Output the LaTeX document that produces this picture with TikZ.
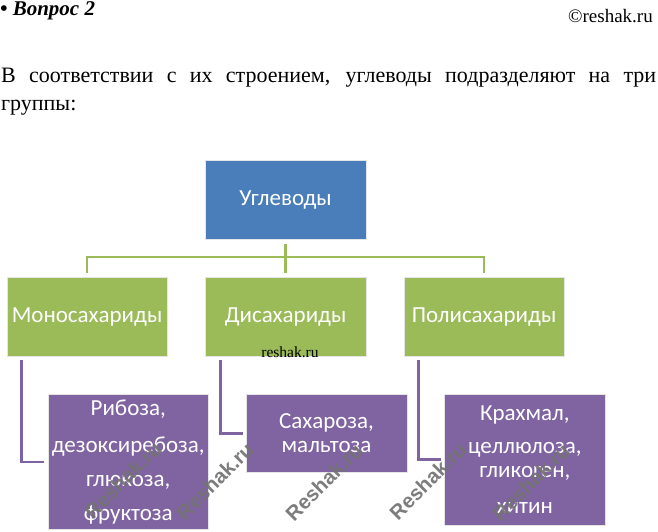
\documentclass[tikz,border=0pt]{standalone}
\usepackage{fontspec}
\setmainfont{Liberation Serif}
\newfontfamily\calfont{Carlito}
\newfontfamily\wmfont{Liberation Sans}
\definecolor{boxblue}{HTML}{4A7EBB}
\definecolor{boxgreen}{HTML}{9BBB59}
\definecolor{boxpurple}{HTML}{8064A2}
\begin{document}
\begin{tikzpicture}[x=1pt,y=-1pt,
  box/.style={draw=white!80!gray, line width=0.6pt, inner sep=0pt, minimum width=160.5pt,
    text=white, align=center, anchor=north west,
    font=\calfont\fontsize{23}{28}\selectfont},
  gl/.style={draw=boxgreen, line width=2.8pt},
  pl/.style={draw=boxpurple, line width=2.8pt},
  wm/.style={font=\wmfont\bfseries\fontsize{20.5}{24}\selectfont, text=black!55, text opacity=0.92,
    rotate=45, inner sep=0pt}]
\fill[white] (0,0) rectangle (658,531);
\useasboundingbox (0,0) rectangle (658,531);

% header texts
\node[anchor=base west, inner sep=0pt, font=\bfseries\itshape\fontsize{21}{25}\selectfont] (q) at (0,15) {• Вопрос 2};
\node[anchor=base east, inner sep=0pt, font=\fontsize{19}{22}\selectfont] (cr) at (653,22) {©reshak.ru};
\node[anchor=base west, inner sep=0pt, font=\fontsize{22}{26}\selectfont] (p1) at (1,82)
  {\hbox to 655pt{\spaceskip=5pt plus 1fil В соответствии с их строением, углеводы подразделяют на три}};
\node[anchor=base west, inner sep=0pt, font=\fontsize{22}{26}\selectfont] (p2) at (1,110) {группы:};

% boxes
\node[box, fill=boxblue, minimum height=79pt] (top) at (205,160) {Углеводы};
\node[box, fill=boxgreen, minimum height=79.3pt] (mono) at (6.5,276.7) {Моносахариды};
\node[box, fill=boxgreen, minimum height=79.3pt] (di) at (205,276.7) {Дисахариды};
\node[box, fill=boxgreen, minimum height=79.3pt] (poly) at (403.5,276.7) {Полисахариды};

\node[box, fill=boxpurple, minimum height=135.3pt, font=\calfont\fontsize{23}{34}\selectfont] (r1) at (47.7,394)
  {Рибоза,\\[3pt] дезоксиребоза,\\ глюкоза,\\ фруктоза};
\node[box, fill=boxpurple, minimum height=77.7pt, font=\calfont\fontsize{23}{23.4}\selectfont] (r2) at (246,394)
  {Сахароза,\\ мальтоза};
\node[box, fill=boxpurple, minimum height=131pt, font=\calfont\fontsize{23}{24}\selectfont] (r3) at (444.3,394)
  {Крахмал,\\[8.7pt] целлюлоза,\\ гликоген,\\[12.6pt] хитин};

% green connectors
\coordinate (hub) at (285.5,257);
\draw[gl, shorten <=4pt, shorten >=4pt] (top) -- (di);
\draw[gl, shorten <=3.5pt] (mono.north) |- (hub);
\draw[gl, shorten <=3.5pt] (poly.north) |- (hub);

% purple connectors
\draw[pl, shorten <=3.3pt, shorten >=3.5pt] ([xshift=15pt]mono.south west) |- (r1.west);
\draw[pl, shorten <=3.3pt, shorten >=3pt] ([xshift=15.7pt]di.south west) |- (r2.west);
\draw[pl, shorten <=3.3pt, shorten >=3pt] ([xshift=15pt]poly.south west) |- (r3.west);

% small mark
\node[anchor=base, inner sep=0pt, font=\fontsize{15.5}{18}\selectfont] (mark) at (290,357) {reshak.ru};

% watermarks
\node[wm] (w1) at (123,480) {Reshak.ru};
\node[wm] (w2) at (215,481) {Reshak.ru};
\node[wm] (w3) at (324,482) {Reshak.ru};
\node[wm] (w4) at (428,481) {Reshak.ru};
\node[wm] (w5) at (531,482) {Reshak.ru};
\end{tikzpicture}
\end{document}
